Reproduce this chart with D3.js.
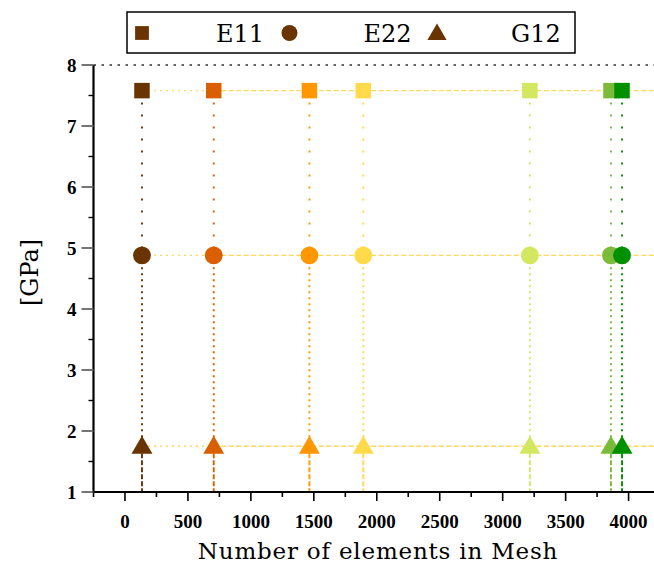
<!DOCTYPE html>
<html>
<head>
<meta charset="utf-8">
<script src="https://cdn.jsdelivr.net/npm/d3@7"></script>
<style>
  body { margin: 0; background: #fff; }
  svg { display: block; }
</style>
</head>
<body>
<div id="wrapper"></div>
<script>
// mesh sizes tested and the resulting moduli (GPa)
const meshElements = [135, 705, 1465, 1893, 3216, 3860, 3948]
const meshColors = ["#6a3400", "#d95f00", "#ff9800", "#ffda4a", "#d4e761", "#7cbb3a", "#009000"]
const seriesNames = ["E11", "E22", "G12"]
const e11Values = [7.58, 7.58, 7.58, 7.58, 7.58, 7.58, 7.58]
const e22Values = [4.88, 4.88, 4.88, 4.88, 4.88, 4.88, 4.88]
const g12Values = [1.75, 1.75, 1.75, 1.75, 1.75, 1.75, 1.75]
const xTickValues = [0, 500, 1000, 1500, 2000, 2500, 3000, 3500, 4000]
const yTickValues = [1, 2, 3, 4, 5, 6, 7, 8]

const series = [e11Values, e22Values, g12Values]
const symbolTypes = [d3.symbolSquare, d3.symbolCircle, d3.symbolTriangle]

const dimensions = {
  width: 654,
  height: 566,
  margin: { top: 65, right: 0, bottom: 74, left: 93.5 }
}
dimensions.boundedHeight = dimensions.height - dimensions.margin.top - dimensions.margin.bottom

const wrapper = d3.select("#wrapper")
  .append("svg")
    .attr("width", dimensions.width)
    .attr("height", dimensions.height)

const xScale = d3.scaleLinear()
  .domain([-250, 4250])
  .range([dimensions.margin.left, dimensions.margin.left + 4500 * 0.1259])

const yScale = d3.scaleLinear()
  .domain([1, 8])
  .range([dimensions.margin.top + dimensions.boundedHeight, dimensions.margin.top])

const hColor = "#ffd75a"

// top dotted line at y = 8
wrapper.append("line")
  .attr("x1", xScale(-250))
  .attr("x2", dimensions.width)
  .attr("y1", yScale(8))
  .attr("y2", yScale(8))
  .attr("stroke", "#333")
  .attr("stroke-width", 1.6)
  .attr("stroke-dasharray", "2.5,5.5")

// horizontal connector lines for each series
series.forEach(vals => {
  wrapper.append("line")
    .attr("x1", xScale(meshElements[0]))
    .attr("x2", xScale(meshElements[1]))
    .attr("y1", yScale(vals[0]))
    .attr("y2", yScale(vals[1]))
    .attr("stroke", hColor)
    .attr("stroke-width", 1.3)
    .attr("stroke-dasharray", "2,4")
  wrapper.append("line")
    .attr("x1", xScale(meshElements[1]))
    .attr("x2", dimensions.width)
    .attr("y1", yScale(vals[1]))
    .attr("y2", yScale(vals[vals.length - 1]))
    .attr("stroke", hColor)
    .attr("stroke-width", 1.3)
    .attr("stroke-dasharray", "5,2.5")
})

// vertical drop lines for each mesh
meshElements.forEach((m, i) => {
  const segs = [
    [e11Values[i], e22Values[i], "2,10"],
    [e22Values[i], g12Values[i], "2,4"],
    [g12Values[i], 1, "5,2"]
  ]
  segs.forEach(s => {
    wrapper.append("line")
      .attr("x1", xScale(m))
      .attr("x2", xScale(m))
      .attr("y1", yScale(s[0]))
      .attr("y2", yScale(s[1]))
      .attr("stroke", meshColors[i])
      .attr("stroke-width", 1.9)
      .attr("stroke-dasharray", s[2])
  })
})

// markers
const symbolSizes = [240, 250, 190]
series.forEach((vals, k) => {
  wrapper.append("g").selectAll("path")
    .data(meshElements)
    .enter().append("path")
      .attr("transform", (d, i) => `translate(${xScale(d)},${yScale(vals[i]) + (k === 2 ? 1.5 : 0)})`)
      .attr("d", d3.symbol().type(symbolTypes[k]).size(symbolSizes[k]))
      .attr("fill", (d, i) => meshColors[i])
})

// axes
const xAxis = wrapper.append("g")
  .attr("transform", `translate(0,${yScale(1)})`)
xAxis.append("line")
  .attr("x1", xScale(-250) - 1)
  .attr("x2", dimensions.width)
  .attr("stroke", "#000")
  .attr("stroke-width", 2.2)
xAxis.selectAll(".minor")
  .data(d3.range(-250, 4250, 500))
  .enter().append("line")
    .attr("x1", d => xScale(d))
    .attr("x2", d => xScale(d))
    .attr("y1", 0)
    .attr("y2", 5)
    .attr("stroke", "#000")
    .attr("stroke-width", 1.6)
xAxis.selectAll(".major")
  .data(xTickValues)
  .enter().append("line")
    .attr("x1", d => xScale(d))
    .attr("x2", d => xScale(d))
    .attr("y1", 0)
    .attr("y2", 9)
    .attr("stroke", "#000")
    .attr("stroke-width", 1.6)
xAxis.selectAll("text")
  .data(xTickValues)
  .enter().append("text")
    .attr("x", d => xScale(d))
    .attr("y", 36)
    .attr("text-anchor", "middle")
    .style("font-family", "Liberation Serif, serif")
    .style("font-weight", "bold")
    .style("font-size", "19px")
    .text(d => d)

const yAxis = wrapper.append("g")
  .attr("transform", `translate(${xScale(-250)},0)`)
yAxis.append("line")
  .attr("y1", yScale(1) + 1)
  .attr("y2", yScale(8))
  .attr("stroke", "#000")
  .attr("stroke-width", 2.2)
yAxis.selectAll(".minor")
  .data(d3.range(1.5, 8, 1))
  .enter().append("line")
    .attr("y1", d => yScale(d))
    .attr("y2", d => yScale(d))
    .attr("x1", 0)
    .attr("x2", -5)
    .attr("stroke", "#000")
    .attr("stroke-width", 1.4)
yAxis.selectAll(".major")
  .data(yTickValues)
  .enter().append("line")
    .attr("y1", d => yScale(d))
    .attr("y2", d => yScale(d))
    .attr("x1", 0)
    .attr("x2", -12)
    .attr("stroke", "#666")
    .attr("stroke-width", 1.8)
yAxis.selectAll("text")
  .data(yTickValues)
  .enter().append("text")
    .attr("x", -17)
    .attr("y", d => yScale(d) + 6.5)
    .attr("text-anchor", "end")
    .style("font-family", "Liberation Serif, serif")
    .style("font-weight", "bold")
    .style("font-size", "19px")
    .text(d => d)

// axis titles
wrapper.append("text")
  .attr("x", 378)
  .attr("y", 559)
  .attr("text-anchor", "middle")
  .style("font-family", "DejaVu Serif, serif")
  .style("font-size", "23px")
  .style("letter-spacing", "0.8px")
  .text("Number of elements in Mesh")

wrapper.append("text")
  .attr("transform", `translate(38,${yScale(4.6)}) rotate(-90)`)
  .attr("text-anchor", "middle")
  .style("font-family", "DejaVu Serif, serif")
  .style("font-size", "24px")
  .text("[GPa]")

// legend
const legend = wrapper.append("g")
legend.append("rect")
  .attr("x", 127)
  .attr("y", 12)
  .attr("width", 448)
  .attr("height", 41)
  .attr("fill", "#fff")
  .attr("stroke", "#000")
  .attr("stroke-width", 1.5)
const legendItems = legend.selectAll(".item")
  .data(seriesNames)
  .enter().append("g")
    .attr("transform", (d, i) => `translate(${142 + i * 147.5},33)`)
legendItems.append("path")
  .attr("d", (d, i) => d3.symbol().type(symbolTypes[i]).size([190, 200, 160][i])())
  .attr("transform", (d, i) => i === 2 ? "translate(0,1.5)" : null)
  .attr("fill", meshColors[0])
legendItems.append("text")
  .attr("x", 74)
  .attr("y", 9)
  .style("font-family", "DejaVu Serif, serif")
  .style("font-size", "24px")
  .text(d => d)
</script>
</body>
</html>
